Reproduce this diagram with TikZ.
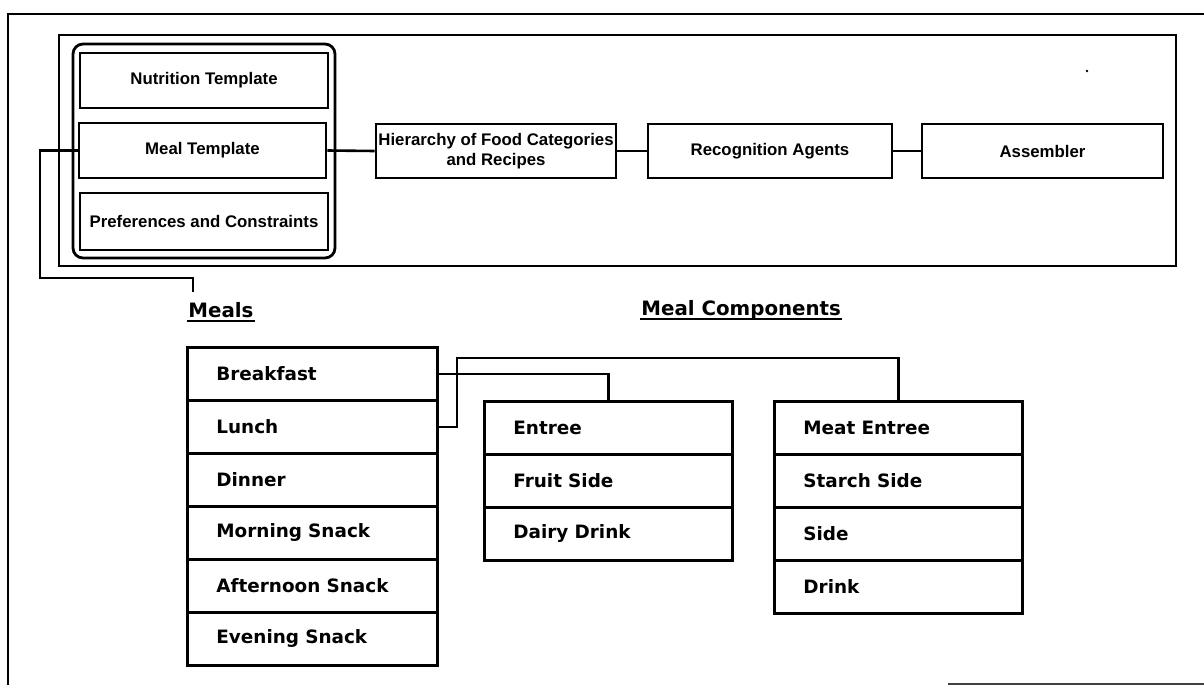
\documentclass[tikz,border=0pt]{standalone}
\usepackage{fontspec}
\setmainfont{Liberation Sans}
\newfontfamily\tabfont{DejaVu Sans}
\usetikzlibrary{calc}

\begin{document}
\begin{tikzpicture}[x=1pt,y=-1pt,line width=2.8pt,
  topbox/.style={draw,inner sep=0pt,align=center,
    font=\fontsize{16.8}{20}\selectfont\bfseries},
  rowbox/.style={draw,anchor=north west,minimum height=53pt,inner xsep=29pt,
    inner ysep=0pt,text width=#1,align=left,
    font=\tabfont\fontsize{18.4}{22}\selectfont\bfseries},
  heading/.style={anchor=west,inner sep=0pt,
    font=\tabfont\fontsize{19.8}{22}\selectfont\bfseries},
  link/.style={draw,line width=2.6pt}]
\useasboundingbox (0,0) rectangle (1204,685);

% outer frame (partly cut off at the right and bottom)
\coordinate (ofBL) at (8,685);
\coordinate (ofTL) at (8,14);
\coordinate (ofTR) at (1204,14);
\draw[line width=2.4pt] (ofBL) -- (ofTL) -- (ofTR);
\coordinate (obA) at (948,684);
\coordinate (obB) at (1204,684);
\draw[line width=2.4pt,black!75] (obA) -- (obB);

% system frame
\node[draw,minimum width=1117pt,minimum height=231pt,inner sep=0pt]
  (sys) at (617.5,150.5) {};
\fill (1087,71) circle (1.4pt);

% template group
\node[draw,rounded corners=10pt,minimum width=262pt,minimum height=214pt,inner sep=0pt]
  (grp) at (204,151) {};
\node[topbox,minimum width=248pt,minimum height=55pt] (nut) at (204,80.5) {Nutrition Template};
\node[topbox,minimum width=247pt,minimum height=55pt] (meal) at (202.5,150.5) {Meal Template};
\node[topbox,minimum width=248pt,minimum height=57pt] (pref) at (204,221.5) {Preferences and Constraints};

% processing chain
\node[topbox,minimum width=240pt,minimum height=54pt] (hier) at (496,151)
  {Hierarchy of Food Categories\\and Recipes};
\node[topbox,minimum width=244pt,minimum height=54pt] (recog) at (770,151) {Recognition Agents};
\node[topbox,minimum width=241pt,minimum height=54pt] (asm) at (1042.5,151) {Assembler};

\draw[link] (meal.east) -- (hier.west);
\draw[link] (hier.east) -- (recog.west);
\draw[link] (recog.east) -- (asm.west);

% link from the meal template down to the meal list
\coordinate (mtA) at (40,150.5);
\coordinate (mtB) at (193,278);
\coordinate (mtEnd) at (193,292);
\draw[link,line width=2.4pt] (meal.west) -- (mtA) |- (mtB) -- (mtEnd);

% headings
\node[heading] (hmeals) at (187,310) {Meals};
\node[heading] (hcomp) at (640,310) {Meal Components};
\draw[line width=2.4pt] ([yshift=-3.5pt]hmeals.base west) -- ([yshift=-3.5pt]hmeals.base east);
\draw[line width=2.4pt] ([yshift=-3.5pt]hcomp.base west) -- ([yshift=-3.5pt]hcomp.base east);

% meals
\node[rowbox=192pt] (bk) at (186,346) {Breakfast};
\node[rowbox=192pt] (lu) at (186,399) {Lunch};
\node[rowbox=192pt] (di) at (186,452) {Dinner};
\node[rowbox=192pt] (ms) at (186,505) {Morning Snack};
\node[rowbox=192pt] (as) at (186,558) {Afternoon Snack};
\node[rowbox=192pt] (es) at (186,611) {Evening Snack};

% breakfast components
\node[rowbox=190pt] (e1) at (483,400) {Entree};
\node[rowbox=190pt] (e2) at (483,453) {Fruit Side};
\node[rowbox=190pt] (e3) at (483,506) {Dairy Drink};

% lunch components
\node[rowbox=190pt] (m1) at (773,400) {Meat Entree};
\node[rowbox=190pt] (m2) at (773,453) {Starch Side};
\node[rowbox=190pt] (m3) at (773,506) {Side};
\node[rowbox=190pt] (m4) at (773,559) {Drink};

% meal to component links
\draw[link] (bk.east) -| (e1.north);
\coordinate (luA) at (457,358);
\draw[link] (lu.east) -| (luA) -| (m1.north);

\end{tikzpicture}
\end{document}
